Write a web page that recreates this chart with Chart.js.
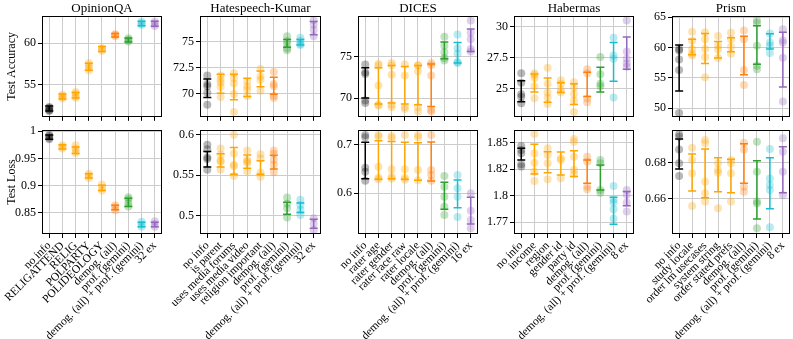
<!DOCTYPE html>
<html><head><meta charset="utf-8">
<script src="https://cdn.jsdelivr.net/npm/chart.js@4"></script>
<style>
html,body{margin:0;padding:0;background:#fff;}
#wrap{position:relative;width:793px;height:339px;overflow:hidden;background:#fff;}
canvas{position:absolute;}
</style></head><body><div id="wrap"></div>
<script>
// ---------------- DATA ----------------
const OQA_CATS = ['no info','RELIGATTEND','RELIG','POLPARTY','POLIDEOLOGY','demog. (all)','prof. (gemini)','demog. (all) + prof. (gemini)','32 ex'];
const OQA_ACC_LO = [51.8, 53.25, 53.37, 56.72, 59.0, 60.77, 60.15, 62.13, 62.05];
const OQA_ACC_HI = [52.4, 53.85, 54.03, 57.58, 59.6, 61.17, 60.65, 62.67, 62.65];
const OQA_ACC_RUNS = [[51.8,52.0,52.2,52.3,51.9],[53.3,53.5,53.6,53.8],[53.4,53.6,53.9,54.1],[56.7,57.0,57.3,57.6],[59.1,59.3,59.4],[60.85,61.0,61.1],[60.2,60.4,60.6],[62.2,62.4,62.6],[62.1,62.35,62.6]];
const OQA_LOSS_LO = [0.985,0.967,0.959,0.914,0.891,0.856,0.862,0.825,0.825];
const OQA_LOSS_HI = [0.993,0.975,0.971,0.922,0.901,0.864,0.877,0.833,0.833];
const OQA_LOSS_RUNS = [[0.985,0.988,0.991,0.993],[0.968,0.971,0.974],[0.960,0.964,0.968,0.974],[0.914,0.918,0.922],[0.891,0.896,0.902],[0.855,0.860,0.864],[0.862,0.868,0.875,0.879],[0.825,0.829,0.834],[0.825,0.830,0.835]];
const OQA_ACC_TICKS = [55, 60];
const OQA_LOSS_TICKS = [0.85, 0.9, 0.95, 1];

const HS_CATS = ['no info','is parent','uses media forums','uses media video','religion important','demog. (all)','prof. (gemini)','demog. (all) + prof. (gemini)','32 ex'];
const HS_ACC_LO = [69.66, 70.06, 69.44, 69.75, 70.7, 69.96, 74.5, 74.7, 75.7];
const HS_ACC_HI = [71.43, 71.9, 71.9, 71.5, 72.2, 71.6, 75.25, 75.25, 76.96];
const HS_ACC_RUNS = [[71.77,70.96,70.75,70.12,68.97],[71.77,71.4,70.7,69.7,71.1],[72.0,71.5,71.0,70.0,68.25],[71.2,70.75,70.43,69.8],[72.4,71.68,71.36,70.3],[72.1,70.96,70.75,69.81,69.6],[75.56,75.1,74.8,74.4,74.2],[75.4,75.1,74.8,74.7],[77.1,76.65,76.18,75.56]];
const HS_LOSS_LO = [0.560, 0.560, 0.551, 0.5587, 0.551, 0.5575, 0.5016, 0.5036, 0.4842];
const HS_LOSS_HI = [0.5793, 0.5764, 0.5843, 0.575, 0.568, 0.5748, 0.5165, 0.5153, 0.4954];
const HS_LOSS_RUNS = [[0.5876,0.582,0.572,0.570,0.5566],[0.583,0.5752,0.568,0.567,0.557],[0.600,0.577,0.563,0.561,0.549],[0.5805,0.569,0.567,0.565,0.5545],[0.576,0.571,0.553,0.548],[0.5805,0.5764,0.569,0.5628,0.5537],[0.5222,0.5144,0.509,0.4974],[0.5194,0.5131,0.507,0.5007],[0.4966,0.4896,0.4821]];
const HS_ACC_TICKS = [70, 72.5, 75];
const HS_LOSS_TICKS = [0.5, 0.55, 0.6];

const DC_CATS = ['no info','rater age','rater gender','rater race raw','rater locale','demog. (all)','prof. (gemini)','demog. (all) + prof. (gemini)','16 ex'];
const DC_ACC_LO = [70.0, 69.3, 69.4, 69.3, 69.2, 69.0, 74.73, 74.22, 75.58];
const DC_ACC_HI = [73.65, 73.65, 73.92, 73.8, 73.92, 74.1, 76.74, 76.66, 78.3];
const DC_ACC_RUNS = [[74.03,73.1,72.9,69.7,69.4],[74.1,73.9,71.5,69.2,69.1],[74.2,73.9,72.8,69.2,68.9],[74.03,72.72,68.92,68.7],[73.95,73.9,73.2,68.9,68.4],[74.2,73.95,72.7,68.6,68.4],[77.37,76.28,75.5,74.8,74.5],[77.63,75.97,75.31,74.34,74.2],[79.3,77.84,77.06,75.9,75.6]];
const DC_LOSS_LO = [0.630, 0.629, 0.630, 0.629, 0.627, 0.6255, 0.5668, 0.5702, 0.5365];
const DC_LOSS_HI = [0.7056, 0.709, 0.707, 0.7056, 0.7048, 0.706, 0.6228, 0.6275, 0.5917];
const DC_LOSS_RUNS = [[0.7207,0.716,0.653,0.6448,0.626],[0.7207,0.717,0.655,0.632,0.629],[0.7186,0.7152,0.6497,0.634,0.630],[0.7207,0.6497,0.632,0.628],[0.7207,0.716,0.6483,0.627],[0.7207,0.648,0.6379,0.626],[0.636,0.6137,0.593,0.5723,0.555],[0.638,0.6103,0.593,0.551],[0.600,0.564,0.5447,0.5276]];
const DC_ACC_TICKS = [70, 75];
const DC_LOSS_TICKS = [0.6, 0.7];

const HB_CATS = ['no info','income','region','gender id','party id','demog. (all)','prof. (gemini)','demog. (all) + prof. (gemini)','8 ex'];
const HB_ACC_LO = [23.92, 24.71, 23.87, 24.66, 23.69, 24.34, 24.71, 25.58, 26.55];
const HB_ACC_HI = [25.63, 26.18, 25.84, 25.45, 25.37, 26.31, 26.73, 28.74, 29.18];
const HB_ACC_RUNS = [[26.24,25.45,24.52,24.32,23.79],[26.24,26.1,25.84,25.18,24.2],[26.68,25.37,24.66,24.26,23.73],[25.66,25.37,24.92,24.66],[25.5,25.05,24.52,24.0,23.08],[26.55,26.24,24.18,23.87],[27.55,26.16,25.37,25.18],[29.13,27.68,27.42,24.26],[30.52,28.0,27.42,27.02,26.76]];
const HB_LOSS_LO = [1.8337, 1.8205, 1.8217, 1.8195, 1.818, 1.8117, 1.8054, 1.773, 1.7903];
const HB_LOSS_HI = [1.8447, 1.8485, 1.8415, 1.8412, 1.8425, 1.8337, 1.829, 1.7985, 1.8038];
const HB_LOSS_RUNS = [[1.8469,1.8431,1.840,1.8296,1.8274],[1.8582,1.840,1.8311,1.8226,1.8139],[1.8447,1.8384,1.8306,1.8155],[1.8353,1.8337,1.8164],[1.8535,1.851,1.8368,1.8242,1.8205],[1.8368,1.8321,1.8085,1.806],[1.8337,1.8306,1.8054,1.8028],[1.8091,1.796,1.7934,1.787,1.778],[1.8054,1.8007,1.7934,1.785]];
const HB_ACC_TICKS = [25, 27.5, 30];
const HB_LOSS_TICKS = [1.775, 1.8, 1.825, 1.85];
const HB_LOSS_TICK_LABELS = ['1.77', '1.8', '1.82', '1.85'];

const PR_CATS = ['no info','study locale','order lm usecases','system string','order stated prefs','demog. (all)','prof. (gemini)','demog. (all) + prof. (gemini)','8 ex'];
const PR_ACC_LO = [52.8, 58.8, 57.36, 58.27, 59.3, 55.5, 57.25, 59.76, 53.46];
const PR_ACC_HI = [60.4, 61.36, 62.3, 61.0, 61.6, 61.85, 63.6, 62.27, 62.53];
const PR_ACC_RUNS = [[59.5,59.76,58.0,56.3,49.2],[62.6,61.1,59.76,58.96,58.7],[62.5,61.36,59.76,58.43,55.1],[61.9,60.3,59.65,58.27],[62.43,61.36,60.13,58.96],[62.8,61.36,56.3,53.8],[64.45,64.04,60.3,56.99,56.4],[62.33,60.83,60.3,59.1],[63.0,61.2,60.8,58.3,51.1]];
const PR_LOSS_LO = [0.6765, 0.6643, 0.6606, 0.6639, 0.6633, 0.6686, 0.6487, 0.6544, 0.6633];
const PR_LOSS_HI = [0.6932, 0.6848, 0.6876, 0.6828, 0.6819, 0.6906, 0.6811, 0.6828, 0.6889];
const PR_LOSS_RUNS = [[0.6958,0.6944,0.6874,0.6797,0.6726],[0.6883,0.6815,0.6741,0.656],[0.6926,0.6908,0.6694,0.663,0.6584],[0.6797,0.6759,0.6744,0.6547],[0.6815,0.6797,0.6741,0.6584],[0.6911,0.6874,0.6667,0.6639],[0.6917,0.675,0.6584,0.6574,0.6436],[0.6876,0.6713,0.6676,0.6648,0.6441],[0.6936,0.6861,0.675,0.662]];
const PR_ACC_TICKS = [50, 55, 60, 65];
const PR_LOSS_TICKS = [0.66, 0.68];

const TITLES = ['OpinionQA','Hatespeech-Kumar','DICES','Habermas','Prism'];
const Y_LABELS = ['Test Accuracy','Test Loss'];

// ---------------- STYLE ----------------
const FONT = "'Liberation Serif','Times New Roman',serif";
const COLORS = ['#000000','#ffa500','#ffa500','#ffa500','#ffa500','#ff7f0e','#2ca02c','#17becf','#9467bd'];
const PT_COLORS = ['rgba(0,0,0,0.28)','rgba(255,165,0,0.3)','rgba(255,165,0,0.3)','rgba(255,165,0,0.3)','rgba(255,165,0,0.3)','rgba(255,127,14,0.3)','rgba(44,160,44,0.3)','rgba(23,190,207,0.3)','rgba(148,103,189,0.3)'];
const GRID = '#cccccc';
const COL_LEFT = [42, 200, 358, 514, 672];
const COL_W = [121, 122, 121, 121, 119];
const AW = 45, PR = 3;

const panels = [
  {cats:OQA_CATS, acc:{lo:OQA_ACC_LO,hi:OQA_ACC_HI,runs:OQA_ACC_RUNS,ticks:OQA_ACC_TICKS,min:51.1,max:63.3},
                  loss:{lo:OQA_LOSS_LO,hi:OQA_LOSS_HI,runs:OQA_LOSS_RUNS,ticks:OQA_LOSS_TICKS,min:0.8115,max:1.002}},
  {cats:HS_CATS, acc:{lo:HS_ACC_LO,hi:HS_ACC_HI,runs:HS_ACC_RUNS,ticks:HS_ACC_TICKS,min:67.8,max:77.5},
                 loss:{lo:HS_LOSS_LO,hi:HS_LOSS_HI,runs:HS_LOSS_RUNS,ticks:HS_LOSS_TICKS,min:0.477,max:0.606}},
  {cats:DC_CATS, acc:{lo:DC_ACC_LO,hi:DC_ACC_HI,runs:DC_ACC_RUNS,ticks:DC_ACC_TICKS,min:67.75,max:79.85},
                 loss:{lo:DC_LOSS_LO,hi:DC_LOSS_HI,runs:DC_LOSS_RUNS,ticks:DC_LOSS_TICKS,min:0.5157,max:0.731}},
  {cats:HB_CATS, acc:{lo:HB_ACC_LO,hi:HB_ACC_HI,runs:HB_ACC_RUNS,ticks:HB_ACC_TICKS,min:22.69,max:30.89},
                 loss:{lo:HB_LOSS_LO,hi:HB_LOSS_HI,runs:HB_LOSS_RUNS,ticks:HB_LOSS_TICKS,labels:HB_LOSS_TICK_LABELS,min:1.7637,max:1.862}},
  {cats:PR_CATS, acc:{lo:PR_ACC_LO,hi:PR_ACC_HI,runs:PR_ACC_RUNS,ticks:PR_ACC_TICKS,min:48.56,max:65.2},
                 loss:{lo:PR_LOSS_LO,hi:PR_LOSS_HI,runs:PR_LOSS_RUNS,ticks:PR_LOSS_TICKS,min:0.6404,max:0.6982}}
];

const wrap = document.getElementById('wrap');

function makeChart(col, row) {
  const p = panels[col];
  const d = row === 0 ? p.acc : p.loss;
  const cats = p.cats;
  const PT = row === 0 ? 16 : 12;
  const PH = 104;
  const XH = row === 0 ? 6 : 105;
  const top = row === 0 ? 0 : 118;
  const left = COL_LEFT[col] - AW;
  const w = AW + COL_W[col] + PR;
  const h = PT + PH + XH;
  const cv = document.createElement('canvas');
  cv.width = w; cv.height = h;
  cv.style.left = left + 'px'; cv.style.top = top + 'px';
  cv.style.width = w + 'px'; cv.style.height = h + 'px';
  wrap.appendChild(cv);

  const pts = [];
  d.runs.forEach((arr, i) => arr.forEach(v => pts.push({x:i, y:v})));

  const decor = {
    id: 'decor' + col + row,
    afterDatasetsDraw(chart) {
      const {ctx, chartArea:a, scales:{x, y}} = chart;
      ctx.save();
      // error bars
      d.lo.forEach((lo, i) => {
        const px = x.getPixelForValue(i);
        const p1 = y.getPixelForValue(lo), p2 = y.getPixelForValue(d.hi[i]);
        ctx.strokeStyle = COLORS[i];
        ctx.lineWidth = 1.5;
        ctx.beginPath();
        ctx.moveTo(px, p1); ctx.lineTo(px, p2);
        ctx.moveTo(px - 4, p1); ctx.lineTo(px + 4, p1);
        ctx.moveTo(px - 4, p2); ctx.lineTo(px + 4, p2);
        ctx.stroke();
      });
      // frame
      ctx.strokeStyle = '#000';
      ctx.lineWidth = 1;
      ctx.strokeRect(Math.round(a.left) + 0.5, Math.round(a.top) + 0.5, Math.round(a.right - a.left) - 1, Math.round(a.bottom - a.top) - 1);
      ctx.fillStyle = '#000';
      if (row === 0) {
        ctx.font = '13px ' + FONT;
        ctx.textAlign = 'center';
        ctx.textBaseline = 'alphabetic';
        ctx.fillText(TITLES[col], (a.left + a.right) / 2, a.top - 4.5);
      }
      if (col === 0) {
        ctx.font = '12px ' + FONT;
        ctx.textAlign = 'center';
        ctx.textBaseline = 'middle';
        ctx.translate(15, (a.top + a.bottom) / 2);
        ctx.rotate(-Math.PI / 2);
        ctx.fillText(Y_LABELS[row], 0, 0);
      }
      ctx.restore();
    }
  };

  new Chart(cv, {
    type: 'scatter',
    data: {datasets: [{
      data: pts,
      pointRadius: 4,
      pointHoverRadius: 4,
      pointBorderWidth: 0,
      pointBackgroundColor: c => PT_COLORS[c.raw ? c.raw.x : 0],
      borderColor: 'rgba(0,0,0,0)'
    }]},
    options: {
      responsive: false,
      animation: false,
      devicePixelRatio: 1,
      layout: {padding: {top: PT, right: PR, left: 0, bottom: 0}},
      plugins: {legend: {display: false}, tooltip: {enabled: false}, title: {display: false}},
      scales: {
        x: {
          type: 'linear', min: -0.55, max: 8.55,
          afterBuildTicks: s => { s.ticks = cats.map((c, i) => ({value: i})); },
          afterFit: s => { s.height = XH; },
          grid: {color: GRID, tickColor: '#000', tickLength: 4, drawTicks: true, lineWidth: 1},
          border: {display: false},
          ticks: {display: row === 1, autoSkip: false, minRotation: 45, maxRotation: 45, padding: 1,
                  color: '#000', font: {family: FONT, size: 11.5}, callback: (v, i) => cats[i]}
        },
        y: {
          min: d.min, max: d.max,
          afterBuildTicks: s => { s.ticks = d.ticks.map(v => ({value: v})); },
          afterFit: s => { s.width = AW; },
          grid: {color: GRID, tickColor: '#000', tickLength: 4, drawTicks: true, lineWidth: 1},
          border: {display: false},
          ticks: {color: '#000', padding: 2, font: {family: FONT, size: 12},
                  callback: (v, i) => d.labels ? d.labels[i] : String(d.ticks[i])}
        }
      }
    },
    plugins: [decor]
  });
}

for (let c = 0; c < 5; c++) { makeChart(c, 0); makeChart(c, 1); }
</script>
</body></html>
